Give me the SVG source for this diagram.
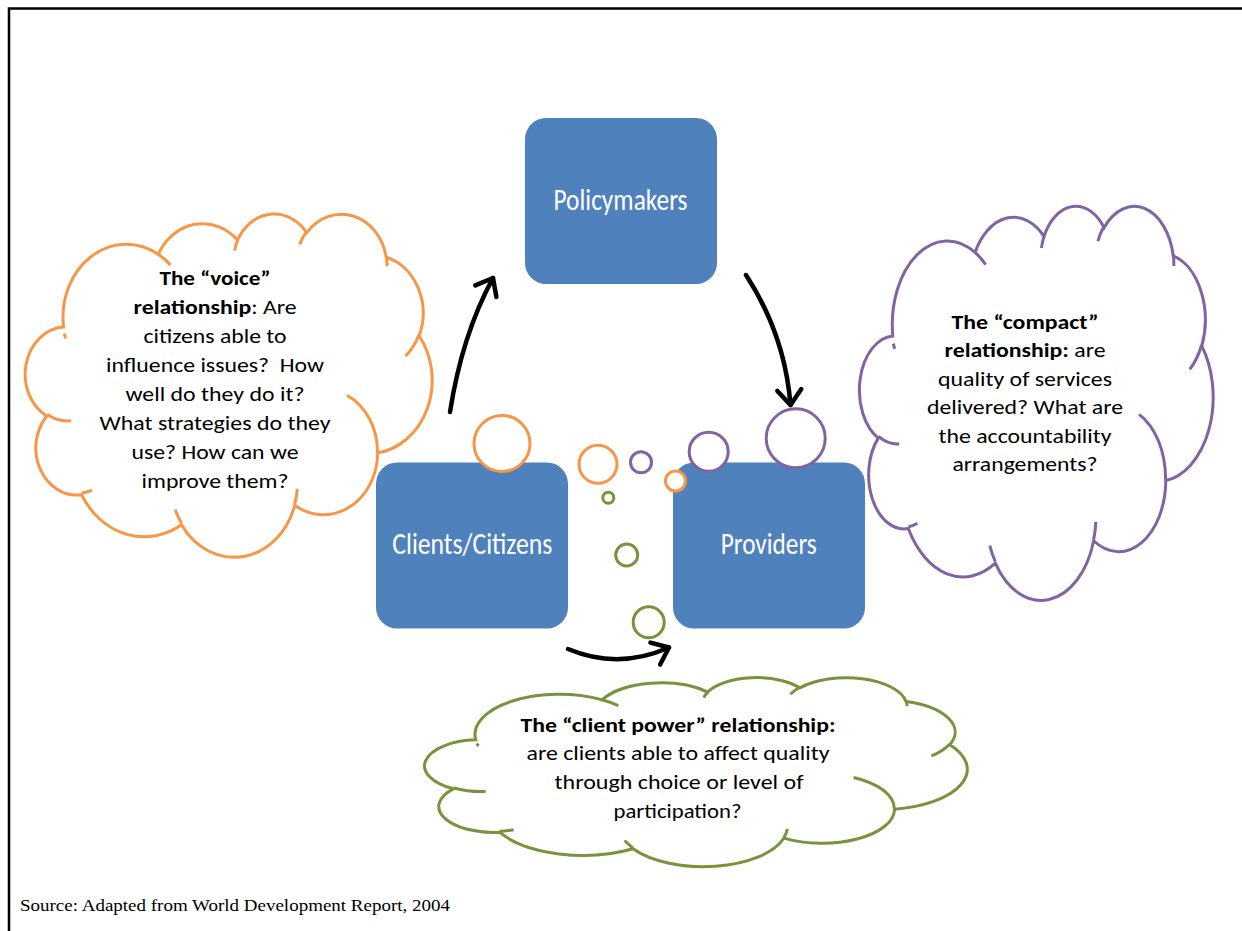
<svg xmlns="http://www.w3.org/2000/svg" xmlns:xlink="http://www.w3.org/1999/xlink" width="1242" height="931" viewBox="0 0 1242 931">
<style>
.frame{stroke:#000;stroke-width:2.5;fill:none}
.box{fill:#4F81BD}
.btxt{font-family:Carlito,Lato,"Open Sans",sans-serif;font-size:31px;fill:#fff;text-anchor:middle}
.ctxt{font-family:Carlito,Lato,"Open Sans",sans-serif;font-size:20.5px;fill:#000;text-anchor:middle}
.b{font-weight:bold}
.or{stroke:#F79646}
.pu{stroke:#8064A2}
.gr{stroke:#77933C}
.bub{fill:#fff;stroke-width:3}
.cl{fill:#fff;stroke-width:3}
.tk{fill:none;stroke-width:3}
.arr{fill:none;stroke:#000;stroke-width:4.5;stroke-linecap:round;marker-end:url(#ah)}
.src{font-family:"Liberation Serif","Times New Roman",serif;font-size:17px;fill:#000}
</style>
<defs>
<marker id="ah" markerUnits="userSpaceOnUse" viewBox="0 0 30 30" refX="22" refY="15" markerWidth="30" markerHeight="30" orient="auto">
<path d="M7,3 L22,15 L7,27" fill="none" stroke="#000" stroke-width="4.5" stroke-linecap="round" stroke-linejoin="round"/>
</marker>
<path id="cloud" vector-effect="non-scaling-stroke" d="M3900,14370 A6753,9190 0 0 1 14004,5202 A5333,7267 0 0 1 22457,3434 A4365,5945 0 0 1 29835,2484 A4857,6595 0 0 1 38319,5580 A5333,7273 0 0 1 41820,15463 A6775,9220 0 0 1 37406,30206 A5785,7867 0 0 1 28557,36816 A6752,9215 0 0 1 16483,39271 A7720,10543 0 0 1 5808,35478 A4360,5918 0 0 1 2115,25559 A4345,5945 0 0 1 3900,14370 Z"/>
<path id="ticks" vector-effect="non-scaling-stroke" d="M4693,26177 A4345,5945 0 0 1 2160,25380 M6928,34899 A4360,5918 0 0 1 5820,35280 M16478,39090 A6752,9215 0 0 1 15808,37345 M28827,34751 A6752,9215 0 0 1 28560,36660 M34129,22954 A5785,7867 0 0 1 37380,30089 M41798,15354 A5333,7273 0 0 1 40350,18030 M38324,5426 A4857,6595 0 0 1 38400,6690 M29078,3952 A4857,6595 0 0 1 29820,2339 M22141,4720 A4365,5945 0 0 1 22500,3330 M14000,5192 A6753,9190 0 0 1 15302,6542 M4127,15789 A6753,9190 0 0 1 3974,15200"/>
</defs>
<rect width="1242" height="931" fill="#fff"/>
<g id="frame">
<path class="frame" d="M9,931 L9,8.5 L1242,8.5"/>
</g>
<g id="voice-cloud">
<g transform="translate(27,213) scale(0.009375,0.00794)">
<use xlink:href="#cloud" class="cl or"/>
<use xlink:href="#ticks" class="tk or"/>
</g>
<text class="ctxt" x="215" y="285" textLength="111" lengthAdjust="spacingAndGlyphs"><tspan class="b">The “voice”</tspan></text>
<text class="ctxt" x="215" y="314" textLength="163" lengthAdjust="spacingAndGlyphs"><tspan class="b">relationship</tspan>: Are</text>
<text class="ctxt" x="215" y="343" textLength="143" lengthAdjust="spacingAndGlyphs">citizens able to</text>
<text class="ctxt" x="215" y="372" textLength="218" lengthAdjust="spacingAndGlyphs">influence issues?&#160; How</text>
<text class="ctxt" x="215" y="401" textLength="179" lengthAdjust="spacingAndGlyphs">well do they do it?</text>
<text class="ctxt" x="215" y="430" textLength="231" lengthAdjust="spacingAndGlyphs">What strategies do they</text>
<text class="ctxt" x="215" y="459" textLength="167" lengthAdjust="spacingAndGlyphs">use? How can we</text>
<text class="ctxt" x="215" y="488" textLength="147" lengthAdjust="spacingAndGlyphs">improve them?</text>
</g>
<g id="compact-cloud">
<g transform="translate(861,205) scale(0.008148,0.00912)">
<use xlink:href="#cloud" class="cl pu"/>
<use xlink:href="#ticks" class="tk pu"/>
</g>
<text class="ctxt" x="1025" y="328.5" textLength="147" lengthAdjust="spacingAndGlyphs"><tspan class="b">The “compact”</tspan></text>
<text class="ctxt" x="1025" y="357" textLength="161" lengthAdjust="spacingAndGlyphs"><tspan class="b">relationship:</tspan> are</text>
<text class="ctxt" x="1025" y="385.5" textLength="174" lengthAdjust="spacingAndGlyphs">quality of services</text>
<text class="ctxt" x="1025" y="414" textLength="196" lengthAdjust="spacingAndGlyphs">delivered? What are</text>
<text class="ctxt" x="1025" y="442.5" textLength="173" lengthAdjust="spacingAndGlyphs">the accountability</text>
<text class="ctxt" x="1025" y="471" textLength="145" lengthAdjust="spacingAndGlyphs">arrangements?</text>
</g>
<g id="client-power-cloud">
<g transform="translate(427,677) scale(0.0125,0.004375)">
<use xlink:href="#cloud" class="cl gr"/>
<use xlink:href="#ticks" class="tk gr"/>
</g>
<text class="ctxt" x="678" y="731.7" textLength="315" lengthAdjust="spacingAndGlyphs"><tspan class="b">The “client power” relationship:</tspan></text>
<text class="ctxt" x="678" y="760" textLength="303" lengthAdjust="spacingAndGlyphs">are clients able to affect quality</text>
<text class="ctxt" x="679" y="789.3" textLength="249" lengthAdjust="spacingAndGlyphs">through choice or level of</text>
<text class="ctxt" x="677.5" y="818.3" textLength="128" lengthAdjust="spacingAndGlyphs">participation?</text>
</g>
<g id="policymakers">
<rect class="box" x="525" y="118" width="192" height="166" rx="21"/>
<text class="btxt" x="620.5" y="210" textLength="134" lengthAdjust="spacingAndGlyphs">Policymakers</text>
</g>
<g id="clients">
<rect class="box" x="376" y="462.5" width="192" height="166" rx="21"/>
<text class="btxt" x="472.3" y="554" textLength="160" lengthAdjust="spacingAndGlyphs">Clients/Citizens</text>
</g>
<g id="providers">
<rect class="box" x="673" y="462.5" width="192" height="166" rx="21"/>
<text class="btxt" x="768.7" y="554" textLength="96" lengthAdjust="spacingAndGlyphs">Providers</text>
</g>
<g id="bubbles">
<circle class="bub or" cx="502" cy="443.5" r="28"/>
<circle class="bub or" cx="598" cy="464.3" r="19"/>
<circle class="bub pu" cx="641" cy="462.3" r="10.5"/>
<circle class="bub or" cx="675.5" cy="481" r="10"/>
<circle class="bub gr" cx="608.3" cy="497.7" r="5.5"/>
<circle class="bub pu" cx="708.7" cy="451.7" r="19.5"/>
<circle class="bub pu" cx="795.7" cy="438.3" r="29.5"/>
<circle class="bub gr" cx="626.7" cy="555" r="11"/>
<circle class="bub gr" cx="648.7" cy="622.3" r="15.5"/>
</g>
<g id="connectors">
<path class="arr" d="M450,412 Q462,335 493,278"/>
<path class="arr" d="M746,275 Q785,335 790.5,405"/>
<path class="arr" d="M568,649 Q618,670 669,647.5"/>
</g>
<text class="src" x="20" y="911" textLength="430" lengthAdjust="spacingAndGlyphs">Source: Adapted from World Development Report, 2004</text>
</svg>
